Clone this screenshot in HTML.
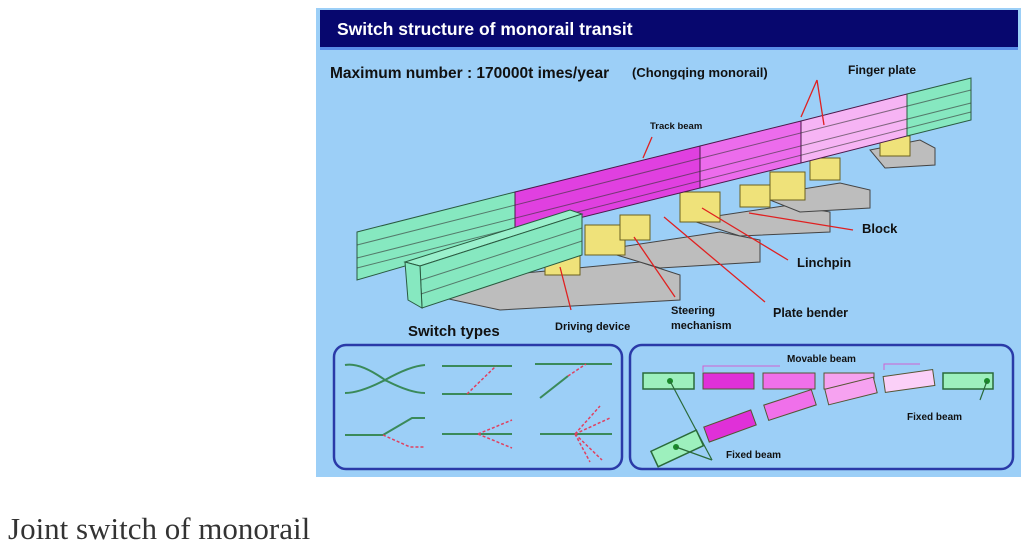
<!DOCTYPE html>
<html><head><meta charset="utf-8"><style>
html,body{margin:0;padding:0;background:#fff;width:1023px;height:559px;overflow:hidden}
svg{position:absolute;left:0;top:0}
.cap{position:absolute;left:8px;top:511px;font-family:"Liberation Serif",serif;font-size:31px;color:#333;line-height:36px}
</style></head><body>
<svg width="1023" height="559" xmlns="http://www.w3.org/2000/svg" font-family="Liberation Sans, sans-serif">
<rect x="316" y="8" width="705" height="469" fill="#9ccff7"/>
<rect x="320" y="10" width="698" height="37" fill="#07076e"/>
<rect x="320" y="47" width="698" height="3" fill="#5a8ee8"/>
<text x="337" y="35" fill="#fff" font-size="17.5" font-weight="bold">Switch structure of monorail transit</text>
<text x="330" y="78" fill="#111" font-size="15.5" font-weight="bold">Maximum number : 170000t imes/year</text>
<text x="632" y="77" fill="#111" font-size="13" font-weight="bold">(Chongqing monorail)</text>
<text x="848" y="74" fill="#111" font-size="12" font-weight="bold">Finger plate</text>
<!-- pedestals -->
<g fill="#bdbdbd" stroke="#444" stroke-width="1">
<polygon points="430,282 640,262 680,275 680,300 500,310 430,295"/>
<polygon points="600,250 720,232 760,240 760,262 660,268"/>
<polygon points="690,220 790,205 830,212 830,232 740,236"/>
<polygon points="760,196 840,183 870,190 870,208 800,212"/>
<polygon points="870,150 920,140 935,148 935,165 885,168"/>
</g>
<!-- yellow mechanisms -->
<g fill="#efe27a" stroke="#6a6020" stroke-width="1">
<rect x="545" y="245" width="35" height="30"/>
<rect x="585" y="225" width="40" height="30"/>
<rect x="620" y="215" width="30" height="25"/>
<rect x="680" y="192" width="40" height="30"/>
<rect x="740" y="185" width="30" height="22"/>
<rect x="770" y="172" width="35" height="28"/>
<rect x="810" y="158" width="30" height="22"/>
<rect x="880" y="136" width="30" height="20"/>
</g>
<!-- main beam -->
<polygon points="357,232 515,192 515,234 357,280" fill="#86e8c0" stroke="#2a5a40"/>
<polygon points="515,192 700,146 700,188 515,234" fill="#e040e0" stroke="#4a1a4a"/>
<polygon points="700,146 801,121 801,163 700,188" fill="#ec6cec" stroke="#4a1a4a"/>
<polygon points="801,121 907,94 907,136 801,163" fill="#f6b4f4" stroke="#4a1a4a"/>
<polygon points="907,94 971,78 971,120 907,136" fill="#86e8c0" stroke="#2a5a40"/>
<g stroke="#333" stroke-width="1" fill="none" opacity="0.6">
<line x1="357" y1="245" x2="971" y2="90"/><line x1="357" y1="258" x2="971" y2="103"/><line x1="357" y1="268" x2="971" y2="112"/>
</g>
<!-- front green beam -->
<polygon points="405,262 570,210 582,214 420,266" fill="#9af0cc" stroke="#2a5a40"/>
<polygon points="420,266 582,214 582,255 422,308" fill="#86e8c0" stroke="#2a5a40"/>
<polygon points="405,262 420,266 422,308 408,300" fill="#86e8c0" stroke="#2a5a40"/>
<g stroke="#333" stroke-width="1" opacity="0.6"><line x1="421" y1="280" x2="582" y2="228"/><line x1="421" y1="294" x2="582" y2="241"/></g>
<!-- red arrows -->
<g stroke="#e02020" stroke-width="1.3" fill="none">
<path d="M817,80 L801,117 M817,80 L824,125"/>
<path d="M652,137 L643,158"/>
<path d="M853,230 L749,213"/>
<path d="M788,260 L702,208"/>
<path d="M765,302 L664,217"/>
<path d="M675,297 L634,237"/>
<path d="M571,310 L560,267"/>
</g>
<text x="650" y="129" fill="#111" font-size="9.5" font-weight="bold">Track beam</text>
<text x="862" y="233" fill="#111" font-size="13" font-weight="bold">Block</text>
<text x="797" y="267" fill="#111" font-size="13" font-weight="bold">Linchpin</text>
<text x="773" y="317" fill="#111" font-size="12.5" font-weight="bold">Plate bender</text>
<text x="671" y="314" fill="#111" font-size="11" font-weight="bold">Steering</text>
<text x="671" y="329" fill="#111" font-size="11" font-weight="bold">mechanism</text>
<text x="555" y="330" fill="#111" font-size="11" font-weight="bold">Driving device</text>
<text x="408" y="336" fill="#111" font-size="15" font-weight="bold">Switch types</text>
<!-- bottom boxes -->
<rect x="334" y="345" width="288" height="124" rx="12" fill="none" stroke="#2a3aa8" stroke-width="2.5"/>
<rect x="630" y="345" width="383" height="124" rx="12" fill="none" stroke="#2a3aa8" stroke-width="2.5"/>
<g stroke="#3a8a5a" stroke-width="2" fill="none">
<path d="M345,365 Q360,362 385,380 Q410,366 425,365"/>
<path d="M345,393 Q360,393 385,380 Q410,393 425,393"/>
<line x1="442" y1="366" x2="512" y2="366"/><line x1="442" y1="394" x2="512" y2="394"/>
<line x1="535" y1="364" x2="612" y2="364"/><line x1="540" y1="398" x2="568" y2="376"/>
<line x1="345" y1="435" x2="383" y2="435"/><path d="M383,435 L412,418 L425,418"/>
<line x1="442" y1="434" x2="512" y2="434"/><line x1="540" y1="434" x2="612" y2="434"/>
</g>
<g stroke="#e04060" stroke-width="1.5" stroke-dasharray="3,2" fill="none">
<line x1="467" y1="394" x2="496" y2="366"/><line x1="568" y1="376" x2="586" y2="364"/>
<path d="M383,435 L410,447 L425,447"/>
<path d="M478,434 L512,420 M478,434 L512,448"/>
<path d="M575,434 L600,406 M575,434 L610,418 M575,434 L602,460 M575,434 L590,462"/>
</g>
<g fill="#9df0bd" stroke="#2a6a3a" stroke-width="1.5">
<rect x="643" y="373" width="51" height="16"/><rect x="943" y="373" width="50" height="16"/>
<rect x="652" y="440" width="50" height="17" transform="rotate(-25 677 448)"/>
</g>
<circle cx="670" cy="381" r="3" fill="#1a8a2a"/><circle cx="987" cy="381" r="3" fill="#1a8a2a"/><circle cx="676" cy="447" r="3" fill="#1a8a2a"/>
<g stroke="#2a6a3a" stroke-width="1.2"><line x1="670" y1="381" x2="712" y2="460"/><line x1="676" y1="447" x2="712" y2="460"/><line x1="987" y1="381" x2="980" y2="400"/></g>
<g stroke="#553" stroke-width="1">
<rect x="703" y="373" width="51" height="16" fill="#e030d8"/>
<rect x="763" y="373" width="52" height="16" fill="#f070ea"/>
<rect x="824" y="373" width="50" height="16" fill="#f6a2f0"/>
<rect x="884" y="373" width="50" height="16" fill="#fbd0f8" transform="rotate(-8 909 381)"/>
<rect x="705" y="418" width="50" height="16" fill="#e030d8" transform="rotate(-20 730 426)"/>
<rect x="765" y="397" width="50" height="16" fill="#f070ea" transform="rotate(-18 790 405)"/>
<rect x="826" y="383" width="50" height="16" fill="#f6a2f0" transform="rotate(-14 851 391)"/>
</g>
<path d="M703,372 L703,366 L780,366 M884,370 L884,364 L920,364" stroke="#d060d0" fill="none"/>
<text x="787" y="362" fill="#111" font-size="10" font-weight="bold">Movable beam</text>
<text x="907" y="420" fill="#111" font-size="10" font-weight="bold">Fixed beam</text>
<text x="726" y="458" fill="#111" font-size="10" font-weight="bold">Fixed beam</text>
</svg>
<div class="cap">Joint switch of monorail</div>
</body></html>
